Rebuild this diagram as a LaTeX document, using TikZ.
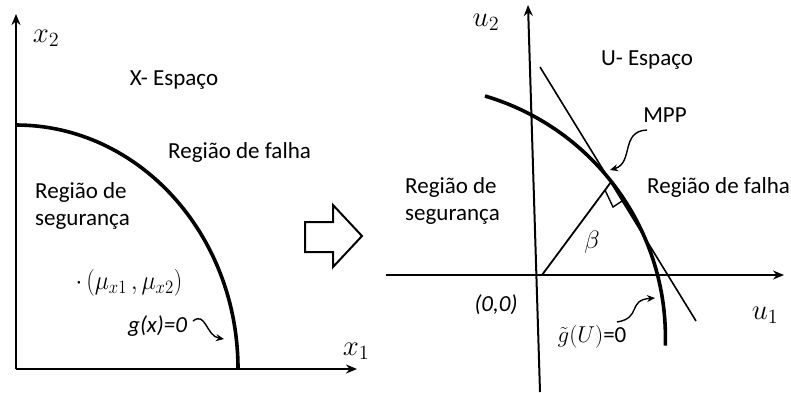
\RequirePackage{fix-cm}
\documentclass[tikz,border=0pt]{standalone}
\usepackage{graphicx}
\usepackage{fontspec}
\setmainfont{Carlito}
\usetikzlibrary{arrows.meta}
\newcommand{\axlab}[1]{\scalebox{1.2}{$#1$}}
\begin{document}
\begin{tikzpicture}[x=1pt,y=-1pt,
  axisline/.style={line width=2pt,-{Stealth[length=11pt,width=9pt]}},
  curveline/.style={line width=3.6pt},
  thinline/.style={line width=1.6pt},
  pointer/.style={line width=1.4pt,-{Stealth[length=8pt,width=7pt]}},
  txt/.style={font=\fontsize{23}{27}\selectfont,inner sep=0pt},
  mth/.style={font=\fontsize{24}{28}\selectfont,inner sep=0pt}]
\useasboundingbox (0,0) rectangle (791,392);
% ---------- left panel ----------
\coordinate (O1) at (16,369);
\coordinate (X2top) at (16,14);
\coordinate (X1end) at (357,369);
\draw[axisline] (O1) -- (X2top);
\draw[axisline] (O1) -- (X1end);
\coordinate (G1s) at (16,125);
\draw[curveline] (G1s) arc[start angle=-90,end angle=0,x radius=222,y radius=244];
\node[mth] (lx2) at (46,38) {\axlab{x_2}};
\node[mth] (lx1) at (356,351) {\axlab{x_1}};
\node[txt] (xesp) at (174,80) {X- Espaço};
\node[txt,anchor=base west] (lfal) at (168,158) {Região de falha};
\node[txt,anchor=base west] (lseg1) at (35,198) {Região de};
\node[txt,anchor=base west] (lseg2) at (35,225) {segurança};
\node[mth] (mu) at (129,283) {\scalebox{1.0}[1.12]{$\cdot\,(\mu_{x1}\,,\mu_{x2})$}};
\node[txt,anchor=base west] (gx) at (128,332) {\textit{g(x)=0}};
\coordinate (gxa) at (193,321);
\coordinate (gxb) at (224,339);
\draw[pointer] (gxa) .. controls (206,311) and (206,336) .. (gxb);
% ---------- block arrow ----------
\draw[line width=2pt,line join=miter] (305,222) -- (333,222) -- (333,205) -- (362,236)
  -- (333,267) -- (333,252) -- (305,252) -- cycle;
% ---------- right panel ----------
\coordinate (U2top) at (528,5);
\coordinate (U2bot) at (540,392);
\coordinate (U1start) at (386,275);
\coordinate (U1end) at (784,275);
\draw[axisline] (U2bot) -- (U2top);
\draw[axisline] (U1start) -- (U1end);
\coordinate (G2s) at (485,96);
\draw[curveline] (G2s) arc[start angle=-73.5,end angle=1.8,radius=252];
\coordinate (T1) at (540,67);
\coordinate (T2) at (696,321);
\draw[thinline] (T1) -- (T2);
\coordinate (B0) at (542,275);
\coordinate (MPPpt) at (611,182);
\draw[line width=1.8pt] (B0) -- (MPPpt);
\coordinate (RA1) at (605,190);
\coordinate (RA2) at (613,207);
\coordinate (RA3) at (622,201);
\draw[line width=1.4pt] (RA1) -- (RA2) -- (RA3);
\node[mth] (ru2) at (486,22) {\axlab{u_2}};
\node[mth] (ru1) at (765,315) {\axlab{u_1}};
\node[txt] (uesp) at (647,60) {U- Espaço};
\node[txt] (mpp) at (665,115) {MPP};
\node[txt,anchor=base west] (rfal) at (647,193) {Região de falha};
\node[txt,anchor=base west] (rseg1) at (405,193) {Região de};
\node[txt,anchor=base west] (rseg2) at (405,220) {segurança};
\node[mth] (beta) at (592,242) {\scalebox{1.05}{$\beta$}};
\node[txt] (orig) at (496,305) {\textit{(0,0)}};
\node[txt] (gt) at (592,337) {$\tilde{g}(U)$=0};
\coordinate (ma) at (647,130);
\coordinate (mb) at (610,170);
\draw[pointer] (ma) .. controls (620,131) and (634,163) .. (mb);
\coordinate (ga) at (617,322);
\coordinate (gb) at (655,298);
\draw[pointer] (ga) .. controls (642,318) and (627,300) .. (gb);
\end{tikzpicture}
\end{document}
